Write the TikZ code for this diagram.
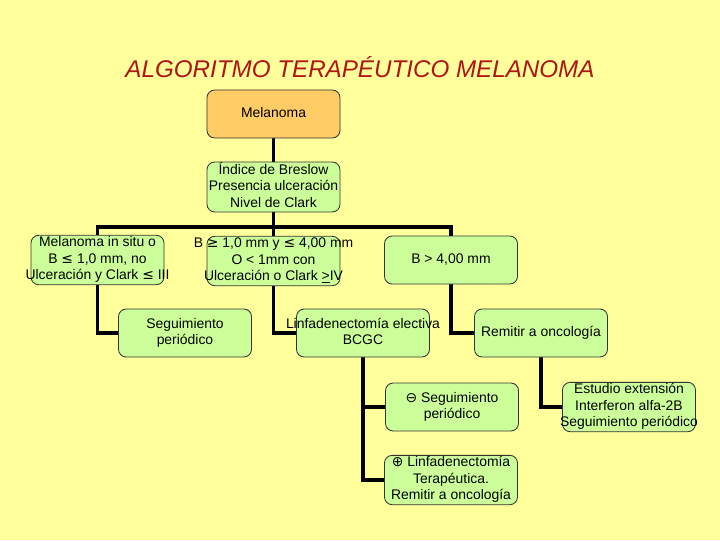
\documentclass[tikz,border=0pt]{standalone}
\usepackage{fontspec}
\setmainfont{Liberation Sans}
\newfontfamily\symfont{DejaVu Sans}
\usepackage{xcolor}
\usepackage{tikz}
\usetikzlibrary{arrows.meta,backgrounds}
\definecolor{fondo}{HTML}{FFFF9C}
\definecolor{titulo}{HTML}{B01414}
\definecolor{verdecaja}{HTML}{CCFF99}
\definecolor{naranjacaja}{HTML}{FFCC66}
\definecolor{bordecaja}{HTML}{333333}
\newcommand{\textocaja}[1]{\makebox[3.2cm]{\begin{tabular}{@{}c@{}}#1\end{tabular}}}
\tikzset{
  caja/.style={
    draw=bordecaja,
    fill=verdecaja,
    rounded corners=5.5pt,
    line width=0.6pt,
    align=center,
    minimum width=3.325cm,
    minimum height=1.2cm,
    inner sep=0pt,
    font=\fontsize{9.9}{11.7}\selectfont
  },
  cajainicio/.style={
    caja,
    fill=naranjacaja
  },
  conector/.style={
    line width=2.2pt,
    draw=black
  }
}

\begin{document}
\begin{tikzpicture}[x=0.025cm, y=-0.025cm]
    \useasboundingbox (0,0) rectangle (720,540);

    \node[font=\fontsize{17.2}{20}\selectfont\itshape, text=titulo] (titulo) at (360,67)
        {ALGORITMO TERAPÉUTICO MELANOMA};

    \node[cajainicio] (melanoma) at (273.5,114) {\textocaja{Melanoma}};
    \node[caja] (breslow) at (273.5,187) {\textocaja{Índice de Breslow\\Presencia ulceración\\Nivel de Clark}};

    \node[caja] (insitu) at (97.5,260) {\textocaja{Melanoma in situ o\\B {\symfont≤} 1,0 mm, no\\Ulceración y Clark {\symfont≤} III}};
    \node[caja] (intermedio) at (273.5,261) {\textocaja{B {\symfont≥} 1,0 mm y {\symfont≤} 4,00 mm\\O {\textless} 1mm con\\Ulceración o Clark \underline{>}IV}};
    \node[caja] (mayor) at (451,260) {\textocaja{B > 4,00 mm}};

    \node[caja] (seguim) at (185,333) {\textocaja{Seguimiento\\periódico}};
    \node[caja] (linfa) at (363,333) {\textocaja{Linfadenectomía electiva\\BCGC}};
    \node[caja] (remitir) at (541,333) {\textocaja{Remitir a oncología}};

    \node[caja] (seguimneg) at (452,407) {\textocaja{{\symfont⊖} Seguimiento\\periódico}};
    \node[caja] (estudio) at (629,407) {\textocaja{Estudio extensión\\Interferon alfa-2B\\Seguimiento periódico}};
    \node[caja] (linfapos) at (451,480) {\textocaja{{\symfont⊕} Linfadenectomía\\Terapéutica.\\Remitir a oncología}};

    \coordinate (barra) at (273.5,227);

    \begin{scope}[on background layer]
        \fill[fondo] (0,0) rectangle (720,540);
        \draw[conector] (melanoma) -- (breslow);
        \draw[conector] (breslow.south) -- (intermedio.north);
        \draw[conector] (insitu.north) |- (barra) -| (mayor.north);
        \draw[conector] (insitu.south) |- (seguim.west);
        \draw[conector] (intermedio.south) |- (linfa.west);
        \draw[conector] (mayor.south) |- (remitir.west);
        \draw[conector] (linfa.south) |- (seguimneg.west);
        \draw[conector] (linfa.south) |- (linfapos.west);
        \draw[conector] (remitir.south) |- (estudio.west);
    \end{scope}
\end{tikzpicture}
\end{document}
